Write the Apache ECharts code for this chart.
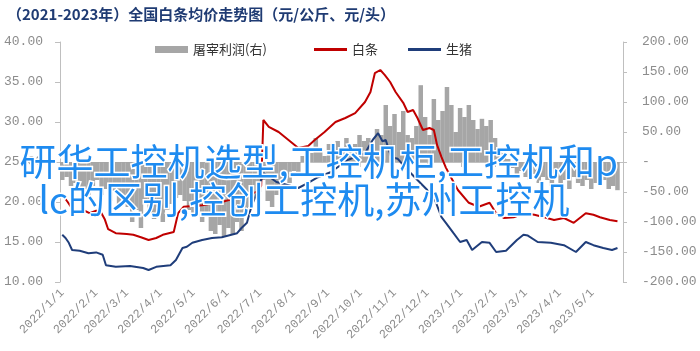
<!DOCTYPE html>
<html><head><meta charset="utf-8">
<script src="https://cdn.jsdelivr.net/npm/echarts@6/dist/echarts.min.js"></script>
<style>html,body{margin:0;padding:0;background:#fff}#c{width:700px;height:351px}</style>
</head><body><div id="c"></div><script>
// 白条 (元/公斤)
const whiteDates = ['2022-01-01','2022-01-06','2022-01-12','2022-01-17','2022-01-20','2022-01-26',
 '2022-02-01','2022-02-05','2022-02-09','2022-02-12','2022-02-19',
 '2022-03-01','2022-03-07','2022-03-14','2022-03-21','2022-03-28',
 '2022-04-03','2022-04-13','2022-04-17','2022-04-22','2022-04-30',
 '2022-05-09','2022-05-18','2022-05-27',
 '2022-06-04','2022-06-12','2022-06-21','2022-06-28',
 '2022-07-02','2022-07-04','2022-07-09','2022-07-18','2022-07-27',
 '2022-08-05','2022-08-14','2022-08-20','2022-08-29',
 '2022-09-08','2022-09-17','2022-09-26',
 '2022-10-05','2022-10-10','2022-10-14','2022-10-19','2022-10-23','2022-10-28',
 '2022-11-02','2022-11-09','2022-11-13','2022-11-18','2022-11-22','2022-11-27',
 '2022-12-03','2022-12-07','2022-12-10','2022-12-14','2022-12-18','2022-12-23','2022-12-29',
 '2023-01-08','2023-01-17','2023-01-27',
 '2023-02-02','2023-02-09','2023-02-18','2023-02-28',
 '2023-03-09','2023-03-18','2023-03-27',
 '2023-04-05','2023-04-14','2023-04-25',
 '2023-05-02','2023-05-08','2023-05-17','2023-05-24'];
const whiteValues = [20.9,20.0,18.75,18.9,19.0,18.6,
 18.9,18.8,17.8,16.6,16.1,
 16.0,15.9,15.6,15.25,15.5,
 15.9,16.25,18.6,19.4,19.5,
 19.6,19.8,20.0,
 20.3,20.4,20.9,21.3,
 22.0,30.25,29.4,28.75,27.75,
 26.75,27.0,27.75,28.75,
 30.0,30.5,31.1,
 32.5,33.75,36.1,36.5,35.9,35.0,
 33.75,32.4,31.25,31.5,30.5,29.0,
 29.25,29.0,27.1,25.6,24.3,23.0,21.5,
 19.9,19.4,19.9,
 18.6,18.0,18.1,18.6,
 18.4,18.1,17.75,
 18.0,17.4,18.6,
 18.4,18.1,17.75,17.6];

// 生猪 (元/公斤)
const hogDates = ['2022-01-01','2022-01-04','2022-01-07','2022-01-10','2022-01-17','2022-01-25',
 '2022-02-01','2022-02-07','2022-02-10','2022-02-19',
 '2022-03-04','2022-03-16','2022-03-21','2022-03-28',
 '2022-04-10','2022-04-15','2022-04-21','2022-04-25','2022-04-30',
 '2022-05-09','2022-05-18','2022-05-27',
 '2022-06-10','2022-06-14','2022-06-19','2022-06-23','2022-06-28',
 '2022-07-04','2022-07-10','2022-07-16','2022-07-27',
 '2022-08-05','2022-08-14','2022-08-23',
 '2022-09-04','2022-09-19',
 '2022-10-05','2022-10-12','2022-10-17','2022-10-21','2022-10-24','2022-10-29',
 '2022-11-04','2022-11-13','2022-11-22',
 '2022-12-01','2022-12-08','2022-12-14','2022-12-18','2022-12-25','2022-12-31',
 '2023-01-06','2023-01-11','2023-01-20','2023-01-27',
 '2023-02-02','2023-02-11','2023-02-21','2023-02-27',
 '2023-03-03','2023-03-12','2023-03-24',
 '2023-04-05','2023-04-16','2023-04-25',
 '2023-05-02','2023-05-11','2023-05-19','2023-05-24'];
const hogValues = [15.9,15.5,14.9,14.0,13.9,13.6,
 13.7,13.4,12.1,11.9,
 12.0,11.75,11.5,11.9,
 12.1,12.75,14.25,14.4,14.9,
 15.25,15.5,15.6,
 16.1,16.75,17.4,19.4,21.1,
 23.6,23.1,22.5,22.1,
 21.75,22.4,23.1,
 23.75,25.25,
 26.1,27.75,28.6,27.6,27.75,25.6,
 25.4,24.0,22.75,
 21.5,20.25,18.1,17.4,16.1,15.0,
 15.25,14.0,15.0,14.9,
 13.75,13.9,15.25,15.9,
 15.8,15.0,14.9,
 14.6,13.75,15.0,
 14.6,14.25,14.0,14.25];

// 屠宰利润 (元/头), one value every 4 days from 2022-01-01
const profitStart = [2022, 0, 1];
const profitStepDays = 4;
const profitValues = [
 -30,-25,-40,-35,-50,-45,-60,-40,-30,-55,-45,-65,-50,-70,-60,-75,
 -100,-80,-110,-70,-85,-95,-75,-100,-80,-70,-60,-55,-65,-80,-90,-75,
 -100,-85,-115,-120,-105,-125,-110,-120,-100,-115,-80,-75,-60,-50,-30,-65,
 -75,-55,-40,-25,-35,-15,-20,10,-10,15,40,20,10,30,
 25,35,20,40,25,30,45,35,40,30,55,45,95,60,80,50,
 85,45,40,60,128,75,45,105,70,85,125,95,50,90,75,95,
 70,55,72,60,70,40,20,15,5,-10,-20,-15,-25,-30,-20,-35,
 -25,-30,-40,-25,-35,-30,-45,-25,-35,-40,-30,-45,-35,-40,-30,-45,
 -40,-47];

const leftTicks = [10, 40, 5];
const rightTicks = [-200, 200, 50];

const DAY = 86400000;
const profitData = profitValues.map((v, i) => {
  const d = new Date(profitStart[0], profitStart[1], profitStart[2] + i * profitStepDays);
  return [d.getTime(), v];
});
const toPairs = (ds, vs) => ds.map((d, i) => {
  const p = d.split('-').map(Number);
  return [new Date(p[0], p[1] - 1, p[2]).getTime(), vs[i]];
});

const AX = '#bfbfbf';
const LBL = '#8c8c8c';
const MONO = '"Liberation Mono", "DejaVu Sans Mono", monospace';
const CJK = '"Noto Sans CJK SC", "Noto Sans", sans-serif';

const chart = echarts.init(document.getElementById('c'), null, {renderer: 'canvas'});
chart.setOption({
  animation: false,
  backgroundColor: '#fff',
  title: {
    text: '（2021-2023年）全国白条均价走势图（元/公斤、元/头）',
    left: 2, top: 2,
    textStyle: {fontSize: 15, fontWeight: 'bold', color: '#1f3b73', fontFamily: CJK}
  },
  legend: [
    {data: ['屠宰利润(右)'], left: 150, top: 38, itemWidth: 33, itemHeight: 7, icon: 'rect',
     textStyle: {fontSize: 13, color: '#333', fontFamily: CJK}},
    {data: ['白条', '生猪'], left: 309, top: 38, itemWidth: 33, itemHeight: 3, icon: 'rect', itemGap: 30,
     textStyle: {fontSize: 13, color: '#333', fontFamily: CJK}}
  ],
  grid: {left: 60, right: 77, top: 42, bottom: 69},
  xAxis: {
    type: 'time',
    min: new Date(2022, 0, 1).getTime(),
    max: new Date(2023, 4, 27).getTime(),
    minInterval: 28 * DAY, maxInterval: 31 * DAY,
    axisLine: {lineStyle: {color: AX}},
    axisTick: {show: true, length: 5, lineStyle: {color: AX}},
    splitLine: {show: false},
    axisLabel: {
      rotate: 45, margin: 9, color: LBL, fontSize: 12, fontFamily: MONO,
      hideOverlap: false, showMaxLabel: false,
      formatter: v => { const d = new Date(v); return d.getFullYear() + '/' + (d.getMonth() + 1) + '/' + d.getDate(); }
    }
  },
  yAxis: [
    {type: 'value', min: leftTicks[0], max: leftTicks[1], interval: leftTicks[2],
     axisLine: {show: true, lineStyle: {color: AX}},
     axisTick: {show: true, length: 5, lineStyle: {color: AX}},
     splitLine: {show: false},
     axisLabel: {color: LBL, fontSize: 13, fontFamily: MONO, margin: 17, formatter: v => v.toFixed(2)}},
    {type: 'value', min: rightTicks[0], max: rightTicks[1], interval: rightTicks[2],
     axisLine: {show: true, lineStyle: {color: AX}},
     axisTick: {show: true, length: 4, lineStyle: {color: AX}},
     splitLine: {show: false},
     axisLabel: {color: LBL, fontSize: 13, fontFamily: MONO, margin: 19, formatter: v => v === 0 ? '-' : v.toFixed(2)}}
  ],
  series: [
    {name: '屠宰利润(右)', type: 'bar', yAxisIndex: 1, data: profitData, barWidth: 4.5,
     itemStyle: {color: '#a6a6a6'}, z: 1},
    {name: '白条', type: 'line', yAxisIndex: 0, data: toPairs(whiteDates, whiteValues), showSymbol: false,
     lineStyle: {width: 2, color: '#c00000'}, itemStyle: {color: '#c00000'}, z: 3},
    {name: '生猪', type: 'line', yAxisIndex: 0, data: toPairs(hogDates, hogValues), showSymbol: false,
     lineStyle: {width: 2, color: '#1f3d7a'}, itemStyle: {color: '#1f3d7a'}, z: 4}
  ],
  graphic: [
    {type: 'text', left: 18, top: 142, z: 100,
     style: {text: '研华工控机选型,工控机柜,工控机和p', fill: '#1e8bf0', stroke: '#fff', lineWidth: 3,
             font: '37px "Noto Sans CJK SC", sans-serif'}},
    {type: 'text', left: 37, top: 180, z: 100,
     style: {text: 'lc的区别,控创工控机,苏州工控机', fill: '#1e8bf0', stroke: '#fff', lineWidth: 3,
             font: '37px "Noto Sans CJK SC", sans-serif'}}
  ]
});
</script></body></html>
